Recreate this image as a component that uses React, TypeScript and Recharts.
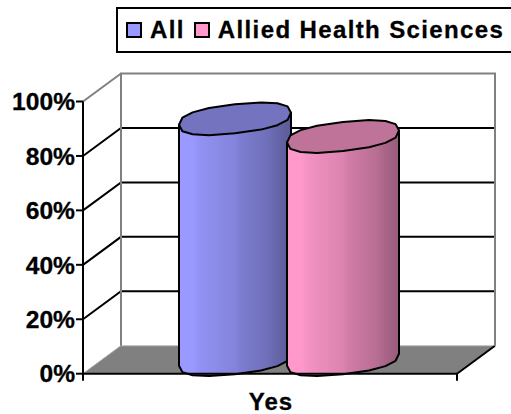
import React from 'react';
import { BarChart, Bar, XAxis, YAxis, CartesianGrid, Legend, ReferenceArea } from 'recharts';

const categories = ['Yes'];
const allValues = [88.5];
const alliedValues = [82];
const yTicks = [0, 20, 40, 60, 80, 100];
const seriesNames = ['All', 'Allied Health Sciences'];

const chartData = categories.map((name, i) => ({
  name,
  [seriesNames[0]]: allValues[i],
  [seriesNames[1]]: alliedValues[i],
}));

const DX = 38;
const DY = -28;
const FONT = '"Liberation Sans", Arial, sans-serif';
const GREY = '#808080';

const shade = (hex: string, k: number) => {
  const n = parseInt(hex.slice(1), 16);
  const c = [(n >> 16) & 255, (n >> 8) & 255, n & 255].map((v) => Math.round(v * k));
  return `rgb(${c[0]},${c[1]},${c[2]})`;
};

const GRADIENT_STEPS = [
  [0, 1], [0.12, 1], [0.2, 0.95], [0.5, 0.86], [0.55, 0.82], [0.8, 0.72], [0.88, 0.66], [1, 0.6],
];

// slightly squared-off ellipse, excel's low-res cylinders are fatter than a true one
const bulge = (v: number) => Math.sign(v) * Math.pow(Math.abs(v), 0.8);

const Cylinder = (props: any) => {
  const { x, y, width, height, fill } = props;
  const cx = x + width / 2 + DX / 2;
  const top = y + DY / 2;
  const bottom = y + height + DY / 2;
  const a = width / 2;
  const b = 14.5;
  const s = 6;
  const SEG = 16;
  const pt = (t: number, cy: number) => {
    const c = bulge(Math.cos(t));
    const n = bulge(Math.sin(t));
    return [cx + a * c, cy + b * n - s * c].map((v) => v.toFixed(1)).join(' ');
  };
  const ring: string[] = [];
  for (let i = 0; i < SEG; i++) ring.push(pt((i / SEG) * Math.PI * 2, top));
  const lower: string[] = [];
  for (let i = 0; i <= SEG / 2; i++) lower.push(pt((i / SEG) * Math.PI * 2, bottom));
  const id = `cyl-${fill.slice(1)}`;
  const body = `M${pt(Math.PI, top)} L${lower.reverse().join(' L')} L${pt(0, top)} Z`;
  return (
    <g>
      <defs>
        <linearGradient id={id} x1="0" y1="0" x2="1" y2="0">
          {GRADIENT_STEPS.map(([o, k], i) => (
            <stop key={i} offset={o} stopColor={shade(fill, k)} />
          ))}
        </linearGradient>
      </defs>
      <path d={body} fill={`url(#${id})`} stroke="#000" strokeWidth={2} strokeLinejoin="round" />
      <polygon points={ring.join(' ')} fill={shade(fill, 0.75)} stroke="#000" strokeWidth={2} strokeLinejoin="round" />
    </g>
  );
};

// back wall and floor, hung on the plot rectangle
const Walls = (props: any) => {
  const { x, y, width, height } = props;
  const b = y + height;
  const r = x + width;
  return (
    <g>
      <polygon points={`${x},${b} ${x + DX},${b + DY} ${r + DX},${b + DY} ${r},${b}`} fill={GREY} />
      <line x1={x + DX} y1={b + DY} x2={r + DX} y2={b + DY} stroke="#c0c0c0" strokeWidth={1} />
      <line x1={x} y1={b} x2={x + DX} y2={b + DY} stroke="#a0a0a0" strokeWidth={1} />
      <line x1={r} y1={b} x2={r + DX} y2={b + DY} stroke="#000" strokeWidth={2} />
      <path d={`M${x + DX} ${b + DY} V${y + DY} H${r + DX} V${b + DY}`} fill="none" stroke={GREY} strokeWidth={2} />
      <line x1={x} y1={b} x2={x} y2={b + 7} stroke="#000" strokeWidth={2} />
      <line x1={r} y1={b} x2={r} y2={b + 7} stroke="#000" strokeWidth={2} />
    </g>
  );
};

const GridLine = (props: any) => {
  const { x1, x2, y1 } = props;
  if (y1 > 370) return <g />;
  const stroke = y1 < 105 ? GREY : '#000';
  return (
    <path
      d={`M${x1} ${y1} L${x1 + DX} ${y1 + DY} ${y1 < 105 ? '' : `H${x2 + DX}`}`}
      fill="none"
      stroke={stroke}
      strokeWidth={2}
    />
  );
};

const LegendBox = (props: any) => {
  const items = props.payload || [];
  return (
    <div
      style={{
        display: 'flex',
        alignItems: 'center',
        height: 42,
        width: 391,
        boxSizing: 'content-box',
        border: '2px solid #000',
        fontFamily: FONT,
        fontWeight: 'bold',
        fontSize: 24,
        letterSpacing: 1.38,
        color: '#000',
        WebkitTextStroke: '0.3px #000',
        paddingLeft: 8,
        whiteSpace: 'nowrap',
      }}
    >
      {items.map((it: any) => (
        <span key={it.value} style={{ display: 'flex', alignItems: 'center', marginRight: 9 }}>
          <span
            style={{ width: 12, height: 12, border: '2px solid #000', background: it.color, marginRight: 8, display: 'inline-block' }}
          />
          {it.value}
        </span>
      ))}
    </div>
  );
};

export default function App() {
  return (
    <div style={{ position: 'absolute', left: 0, top: 0, width: 511, height: 414, background: '#fff', overflow: 'hidden' }}>
      <BarChart
        width={511}
        height={414}
        data={chartData}
        margin={{ top: 55.5, right: 54, bottom: 0, left: 0 }}
        barSize={112}
        barGap={-4}
      >
        <CartesianGrid vertical={false} horizontal={(p: any) => <GridLine {...p} />} />
        <ReferenceArea y1={0} y2={100} shape={(p: any) => <Walls {...p} />} ifOverflow="visible" fill="none" stroke="none" />
        <XAxis
          dataKey="name"
          axisLine={{ stroke: '#000', strokeWidth: 2 }}
          tickLine={false}
          height={40.3}
          tickMargin={13}
          tick={{ fill: '#000', stroke: '#000', strokeWidth: 0.3, fontFamily: FONT, fontWeight: 'bold', fontSize: 24, letterSpacing: 1, dx: 1 }}
        />
        <YAxis
          width={83}
          domain={[0, 100]}
          ticks={yTicks}
          tickFormatter={(v: number) => `${v}%`}
          axisLine={{ stroke: '#000', strokeWidth: 2 }}
          tickLine={{ stroke: '#000', strokeWidth: 2 }}
          tickSize={7}
          tickMargin={1}
          tick={{ fill: '#000', stroke: '#000', strokeWidth: 0.3, fontFamily: FONT, fontWeight: 'bold', fontSize: 24.6 }}
        />
        <Legend
          verticalAlign="top"
          content={<LegendBox />}
          wrapperStyle={{ position: 'absolute', left: 116, top: 7, width: 'auto', height: 'auto' }}
        />
        <Bar dataKey={seriesNames[0]} fill="#9999ff" shape={(p: any) => <Cylinder {...p} />} isAnimationActive={false} />
        <Bar dataKey={seriesNames[1]} fill="#ff99cc" shape={(p: any) => <Cylinder {...p} />} isAnimationActive={false} />
      </BarChart>
    </div>
  );
}
